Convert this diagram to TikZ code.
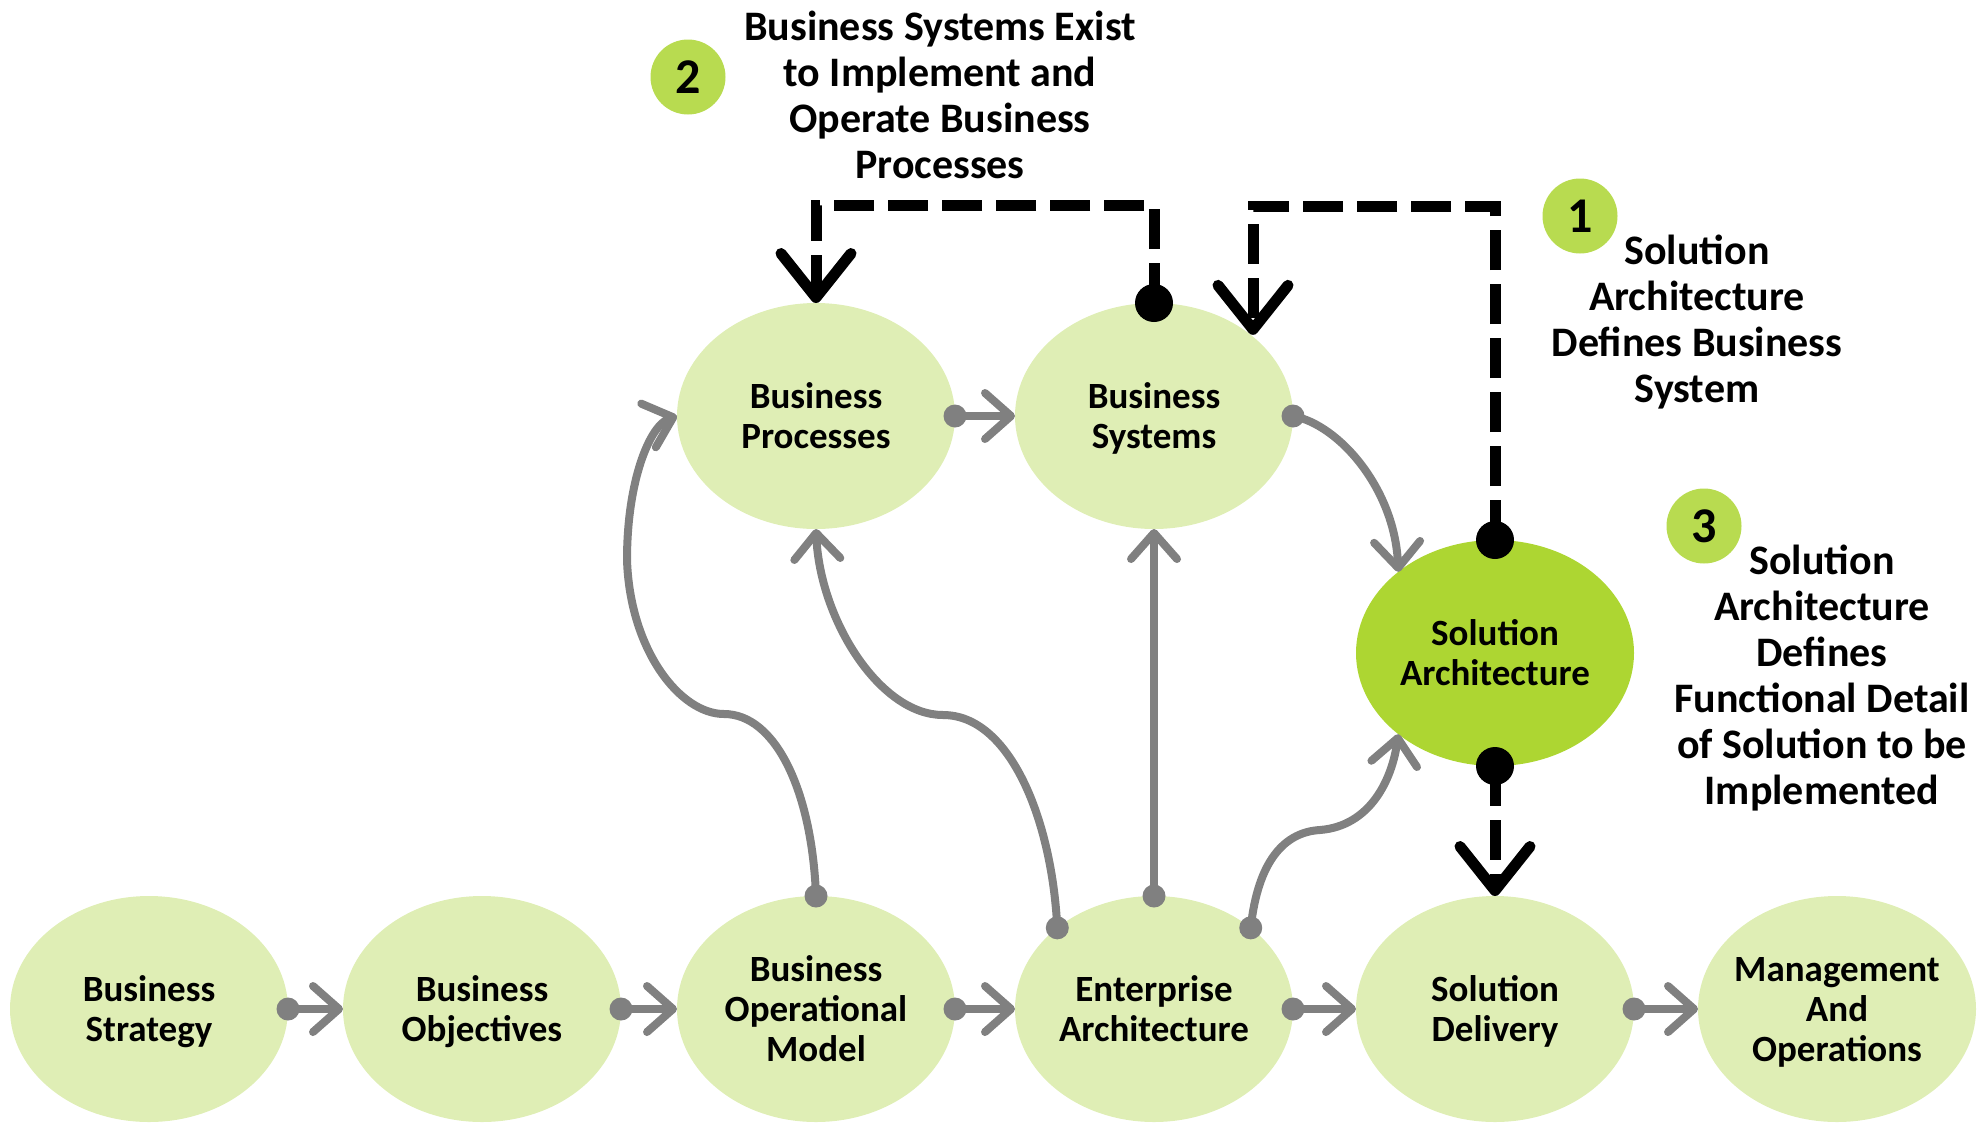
\documentclass[tikz,border=0pt]{standalone}
\usepackage{fontspec}
\setmainfont{Carlito}
\usetikzlibrary{shapes.geometric,arrows.meta}
\definecolor{nodegreen}{RGB}{223,238,181}
\definecolor{sagreen}{RGB}{173,214,50}
\definecolor{badgegreen}{RGB}{184,219,80}
\definecolor{linegray}{RGB}{128,128,128}
\newcommand{\ml}[1]{\raisebox{-4pt}[\height][\depth]{\makebox[0pt]{\begin{tabular}{@{}c@{}}#1\end{tabular}}}}
\begin{document}
\begin{tikzpicture}[x=1pt,y=-1pt,
  bubble/.style={ellipse, fill=nodegreen, minimum width=278pt, minimum height=226pt, inner sep=0pt, outer sep=0pt, font=\bfseries\fontsize{37}{40}\selectfont},
  badge/.style={circle, fill=badgegreen, minimum size=75pt, inner sep=0pt, font=\bfseries\fontsize{50}{50}\selectfont},
  note/.style={align=center, inner sep=0pt, font=\bfseries\fontsize{42}{46}\selectfont},
  gline/.style={draw=linegray, line width=8pt},
  gconn/.style={gline, -{Straight Barb[length=26pt,width=46pt,round]}},
  bconn/.style={draw=black, line width=11pt, dash pattern=on 40pt off 14pt, -{Straight Barb[length=44pt,width=70pt,round]}},
  gdot/.style={fill=linegray},
  bdot/.style={fill=black}
]
\useasboundingbox (0,0) rectangle (1978,1122);

% nodes
\node[bubble] (bstr) at (149,1009) {\ml{Business\\Strategy}};
\node[bubble] (bobj) at (482,1009) {\ml{Business\\Objectives}};
\node[bubble] (bom)  at (816,1009) {\ml{Business\\Operational\\Model}};
\node[bubble] (ea)   at (1154,1009) {\ml{Enterprise\\Architecture}};
\node[bubble] (sd)   at (1495,1009) {\ml{Solution\\Delivery}};
\node[bubble] (mo)   at (1837,1009) {\ml{Management\\And\\Operations}};
\node[bubble] (bp)   at (816,416) {\ml{Business\\Processes}};
\node[bubble] (bsy)  at (1154,416) {\ml{Business\\Systems}};
\node[bubble, fill=sagreen] (sa) at (1495,653) {\ml{Solution\\Architecture}};

% badges and notes
\node[badge] (b2) at (688,77) {2};
\node[badge] (b1) at (1580,216) {1};
\node[badge] (b3) at (1704,526) {3};
\node[note] (n2) at (940,95) {Business Systems Exist\\to Implement and\\Operate Business\\Processes};
\node[note] (n1) at (1697,322) {Solution\\Architecture\\Defines Business\\System};
\node[note] (n3) at (1822,678) {Solution\\Architecture\\Defines\\Functional Detail\\of Solution to be\\Implemented};

% gray straight connectors
\draw[gconn] (bstr.east) -- (bobj.west);
\draw[gconn] (bobj.east) -- (bom.west);
\draw[gconn] (bom.east) -- (ea.west);
\draw[gconn] (ea.east) -- (sd.west);
\draw[gconn] (sd.east) -- (mo.west);
\draw[gconn] (bp.east) -- (bsy.west);
\draw[gconn] (ea.north) -- (bsy.south);

% gray curved connectors
\draw[gconn] (bom.north) .. controls (812,790) and (775,714) .. (724,714)
  .. controls (680,714) and (630,650) .. (627,560)
  .. controls (627,480) and (650,425) .. (bp.west);
\draw[gconn] (ea.140) .. controls (1052,820) and (1010,715) .. (943,715)
  .. controls (880,715) and (820,620) .. (bp.south);
\draw[gconn] (bsy.east) .. controls (1340,425) and (1395,490) .. (sa.140);
\draw[gconn] (ea.40) .. controls (1258,860) and (1285,832) .. (1320,830)
  .. controls (1370,826) and (1392,780) .. (sa.220);

% gray dots
\foreach \p in {bstr.east,bobj.east,bom.east,ea.east,sd.east,bp.east,bsy.east,ea.north,bom.north,ea.140,ea.40}
  \fill[gdot] (\p) circle (11.5pt);

% black dashed connectors
\coordinate (top2) at (0,205);
\coordinate (k1) at (1253,206);
\draw[bconn] (bsy.north) -- (bsy.north |- top2) -| (bp.north);
\draw[bconn] (sa.north) |- (k1) -- (k1 |- bsy.40);
\draw[bconn] (sa.south) -- (sd.north);

% black dots
\fill[bdot] (bsy.north) circle (19pt);
\fill[bdot] (sa.north) circle (19pt);
\fill[bdot] (sa.south) circle (19pt);
\end{tikzpicture}
\end{document}
